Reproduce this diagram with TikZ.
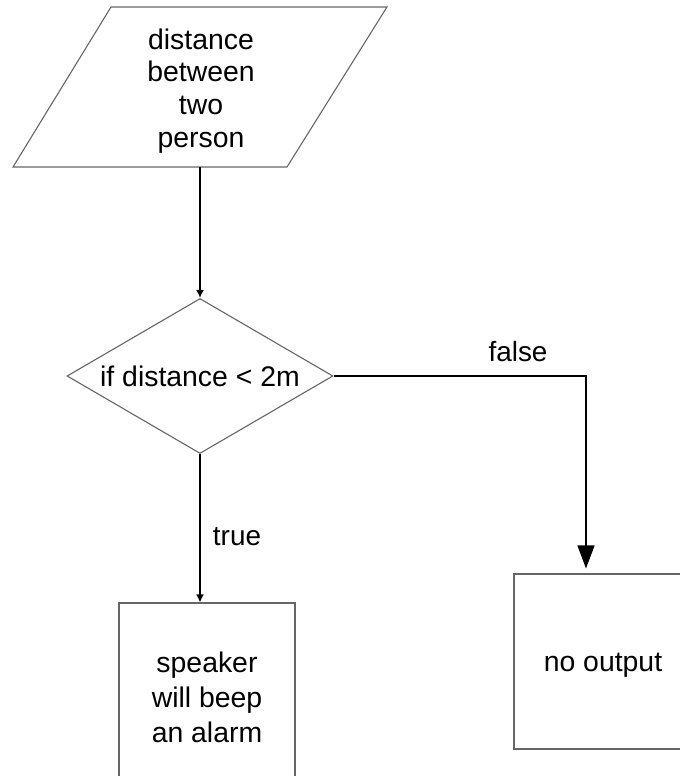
\documentclass[tikz,border=0pt]{standalone}
\usepackage{fontspec}
\setmainfont{Liberation Sans}
\usetikzlibrary{shapes.geometric,arrows.meta}
\begin{document}
\begin{tikzpicture}[x=1bp,y=-1bp,
  outline/.style={draw=black!60,line width=1.1bp},
  txt/.style={font=\fontsize{28.5}{33}\selectfont,align=center,inner sep=0pt},
  flow/.style={draw=black,line width=2.2bp,-{Latex[length=8bp,width=8bp]}},
  flowbig/.style={draw=black,line width=1.3bp,-{Triangle[length=23bp,width=17bp]},shorten >=5bp},
  lbl/.style={font=\fontsize{28}{33}\selectfont,inner sep=0pt}]
\useasboundingbox (0,0) rectangle (680,776);
\clip (0,0) rectangle (680,776);
\fill[white] (0,0) rectangle (680,776);
% input parallelogram
\draw[outline] (111,7) -- (387,7) -- (287,167) -- (13,167) -- cycle;
\node[txt] (inp) at (201,91)
  {distance\\between\\two\\person};
\coordinate (inpbot) at (200,167);
% decision diamond
\node[diamond,outline,inner sep=0pt,aspect=1.716,minimum width=266bp,minimum height=155bp,
  font=\fontsize{28.5}{33}\selectfont] (dec) at (200,376) {if distance < 2m};
% boxes
\node[outline,rectangle,minimum width=176bp,minimum height=180bp,inner sep=0pt] (yes) at (207,693) {};
\node[txt,font=\fontsize{28.5}{35}\selectfont] (yestxt) at (207,697) {speaker\\will beep\\an alarm};
\node[outline,rectangle,minimum width=178bp,minimum height=175bp,inner sep=0pt] (no) at (603,661.5) {};
\node[txt] (notxt) at (603,665) {no output};
% connectors
\draw[flow] (inpbot) -- (dec.north);
\draw[flow] (dec.south) -- (yes.north -| dec.south);
\coordinate (turn) at (586,376);
\draw[flowbig] (dec.east) -- (turn) -- (turn |- no.north);
% labels
\node[lbl] (lfalse) at (518,352) {false};
\node[lbl] (ltrue) at (237,537) {true};
\end{tikzpicture}
\end{document}
